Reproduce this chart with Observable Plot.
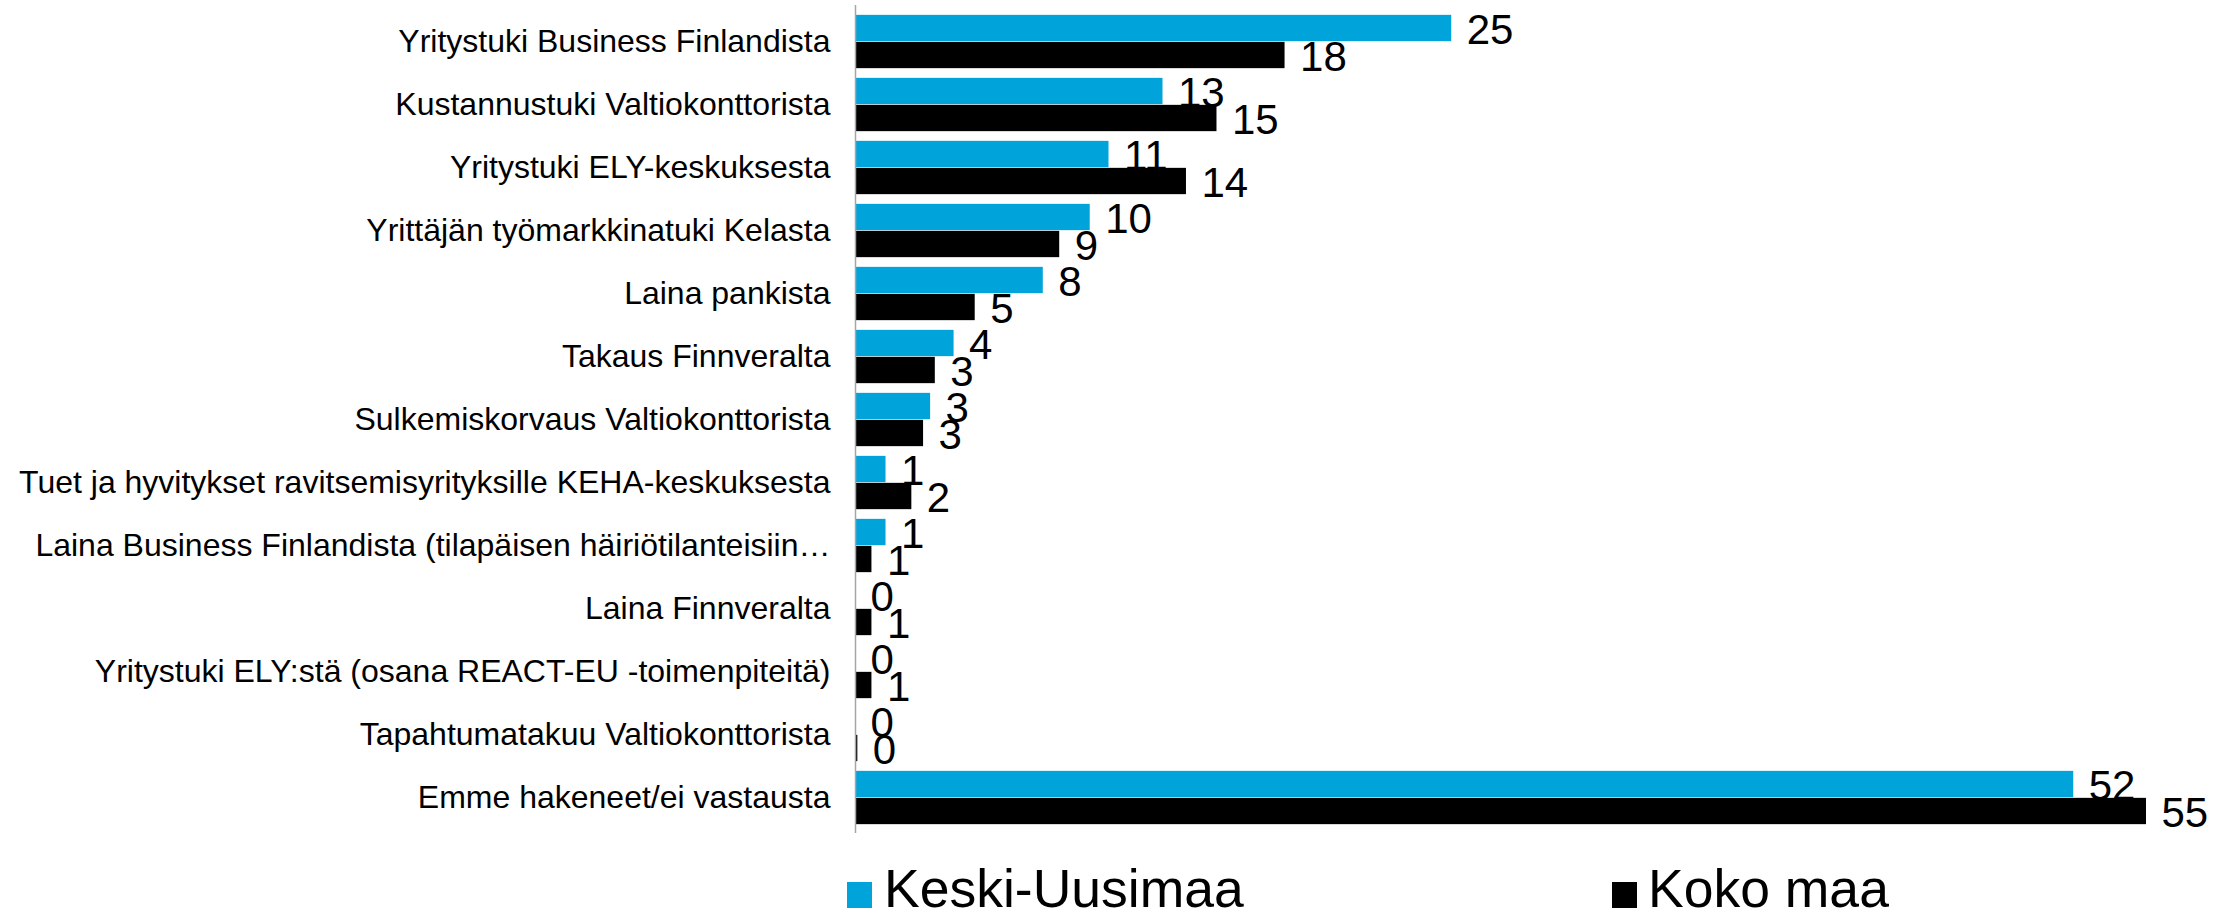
<!DOCTYPE html>
<html>
<head>
<meta charset="utf-8">
<script src="https://cdn.jsdelivr.net/npm/d3@7"></script>
<script src="https://cdn.jsdelivr.net/npm/@observablehq/plot@0.6"></script>
<style>
  html, body { margin: 0; padding: 0; background: #fff; }
  body { width: 2227px; height: 918px; position: relative; overflow: hidden; font-family: "Liberation Sans", Arial, sans-serif; }
  #chart svg { display: block; }
  .sw { position: absolute; width: 25px; height: 26px; }
  .lt { position: absolute; font-size: 53.5px; line-height: 44px; height: 44px; color: #000; white-space: nowrap; }
</style>
</head>
<body>
<div id="chart"></div>
<div class="sw" style="left:847px; top:882px; background:#00a3da;"></div>
<div class="lt" style="left:884px; top:867px;">Keski-Uusimaa</div>
<div class="sw" style="left:1612px; top:882px; background:#000;"></div>
<div class="lt" style="left:1648px; top:867px;">Koko maa</div>
<script>
const categories = [
  "Yritystuki Business Finlandista",
  "Kustannustuki Valtiokonttorista",
  "Yritystuki ELY-keskuksesta",
  "Yrittäjän työmarkkinatuki Kelasta",
  "Laina pankista",
  "Takaus Finnveralta",
  "Sulkemiskorvaus Valtiokonttorista",
  "Tuet ja hyvitykset ravitsemisyrityksille KEHA-keskuksesta",
  "Laina Business Finlandista (tilapäisen häiriötilanteisiin…",
  "Laina Finnveralta",
  "Yritystuki ELY:stä (osana REACT-EU -toimenpiteitä)",
  "Tapahtumatakuu Valtiokonttorista",
  "Emme hakeneet/ei vastausta"
];
const keskiUusimaa = [25.4, 13.1, 10.8, 10.0, 8.0, 4.2, 3.2, 1.3, 1.3, 0, 0, 0, 51.9];
const kokoMaa      = [18.3, 15.4, 14.1, 8.7, 5.1, 3.4, 2.9, 2.4, 0.7, 0.7, 0.7, 0.1, 55.0];
const seriesNames = ["Keski-Uusimaa", "Koko maa"];
const seriesColors = ["#00a3da", "#000000"];

const rows = categories.map((c, i) => ({category: c, keski: keskiUusimaa[i], koko: kokoMaa[i]}));
const fmt = d3.format(".0f");

const W = 2227, H = 845, mTop = 5, mBottom = 12;
const band = (H - mTop - mBottom) / categories.length;
const barH = 27;
const gap = (band - 2 * barH) / 2;

const chart = Plot.plot({
  width: W,
  height: H,
  marginLeft: 855,
  marginRight: 81,
  marginTop: mTop,
  marginBottom: mBottom,
  style: {fontFamily: "'Liberation Sans', Arial, sans-serif", fontSize: "32px", background: "#fff", color: "#000"},
  x: {domain: [0, 55], axis: null},
  y: {domain: categories, padding: 0, label: null, tickSize: 0, tickPadding: 25},
  marks: [
    Plot.barX(rows, {y: "category", x: "keski", fill: seriesColors[0], insetTop: gap, insetBottom: gap + barH}),
    Plot.barX(rows, {y: "category", x: "koko", fill: seriesColors[1], insetTop: gap + barH, insetBottom: gap}),
    Plot.ruleX([0], {stroke: "#a6a6a6", strokeWidth: 1.5}),
    Plot.text(rows, {y: "category", x: "keski", text: d => fmt(d.keski), textAnchor: "start", dx: 15, dy: -(barH / 2) + 2, fontSize: 42, fill: "#000"}),
    Plot.text(rows, {y: "category", x: "koko", text: d => fmt(d.koko), textAnchor: "start", dx: 15, dy: (barH / 2) + 2, fontSize: 42, fill: "#000"})
  ]
});
document.getElementById("chart").appendChild(chart);
</script>
</body>
</html>
